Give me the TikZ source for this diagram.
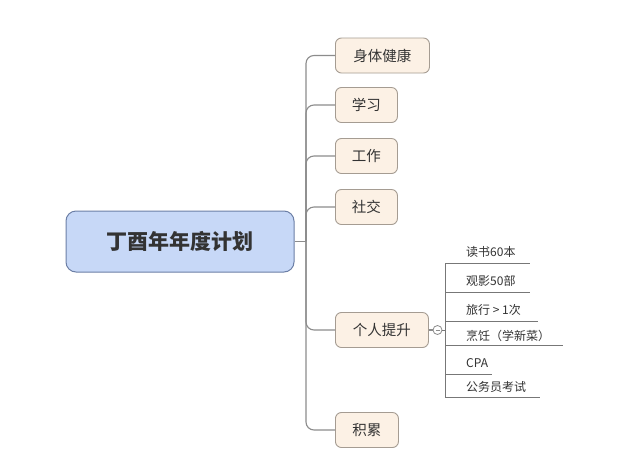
\documentclass[tikz,border=0pt]{standalone}
\usepackage{fontspec}
\setmainfont{Noto Sans CJK SC}
\definecolor{rootfill}{HTML}{C7D8F7}
\definecolor{rootborder}{HTML}{6C7FA6}
\definecolor{topicfill}{HTML}{FCF1E5}
\definecolor{topicborder}{HTML}{A59C92}
\definecolor{linegray}{HTML}{8C8C8C}
\definecolor{textdark}{HTML}{333333}
\begin{document}
\begin{tikzpicture}[x=1pt,y=-1pt,
  rootbox/.style={draw=rootborder, fill=rootfill, rounded corners=10pt, line width=1pt,
    minimum width=228pt, minimum height=61pt, inner sep=0pt,
    font=\fontsize{21}{24}\selectfont\bfseries, text=textdark},
  topicbox/.style={draw=topicborder, fill=topicfill, rounded corners=6pt, line width=0.9pt,
    minimum height=35pt, inner sep=0pt, anchor=west,
    font=\fontsize{14.5}{17}\selectfont, text=textdark},
  subtext/.style={font=\fontsize{12}{14}\selectfont, text=textdark, anchor=west, inner sep=0pt},
  conn/.style={draw=linegray, line width=1.1pt},
  subconn/.style={draw=linegray!85!black, line width=0.9pt},
]
\useasboundingbox[fill=white] (0,0) rectangle (640,472);
% root
\node[rootbox] (root) at (180,241.5) {丁酉年年度计划};
% main topics
\node[topicbox, minimum width=94pt] (t1) at (335,55.5) {身体健康};
\node[topicbox, minimum width=62pt] (t2) at (335,105) {学习};
\node[topicbox, minimum width=62pt] (t3) at (335,156) {工作};
\node[topicbox, minimum width=62pt] (t4) at (335,207) {社交};
\node[topicbox, minimum width=93pt] (t5) at (335,330) {个人提升};
\node[topicbox, minimum width=63pt] (t6) at (335,430) {积累};
% connectors
\coordinate (j) at (306,241.5);
\draw[conn] (root.east) -- (j);
\foreach \t in {t1,t2,t3,t4,t5,t6}
  \draw[conn, rounded corners=8pt] (j) |- (\t.west);
% collapse marker
\node[draw=linegray, fill=white, circle, minimum size=9pt, inner sep=0pt, line width=0.8pt] (col) at (437.5,330) {};
\draw[linegray, line width=0.7pt] ([xshift=-2pt]col.center) -- ([xshift=2pt]col.center);
\draw[conn] (t5.east) -- (col.west);
\coordinate (v) at (445,330);
\draw[subconn] (col.east) -- (v);
% sub items
\coordinate (u1) at (445,263); \coordinate (e1) at (530,263);
\coordinate (u2) at (445,292); \coordinate (e2) at (530,292);
\coordinate (u3) at (445,321); \coordinate (e3) at (538,321);
\coordinate (u4) at (445,345.5); \coordinate (e4) at (563,345.5);
\coordinate (u5) at (445,374); \coordinate (e5) at (492,374);
\coordinate (u6) at (445,397); \coordinate (e6) at (540,397);
\draw[subconn] (u1) -- (u6);
\foreach \i in {1,...,6} \draw[subconn] (u\i) -- (e\i);
\node[subtext] (s1) at (466,252) {读书60本};
\node[subtext] (s2) at (466,281) {观影50部};
\node[subtext] (s3) at (466,310) {旅行 > 1次};
\node[subtext] (s4) at (466,335.5) {烹饪（学新菜）};
\node[subtext] (s5) at (466,363) {CPA};
\node[subtext] (s6) at (466,387) {公务员考试};
\end{tikzpicture}
\end{document}
